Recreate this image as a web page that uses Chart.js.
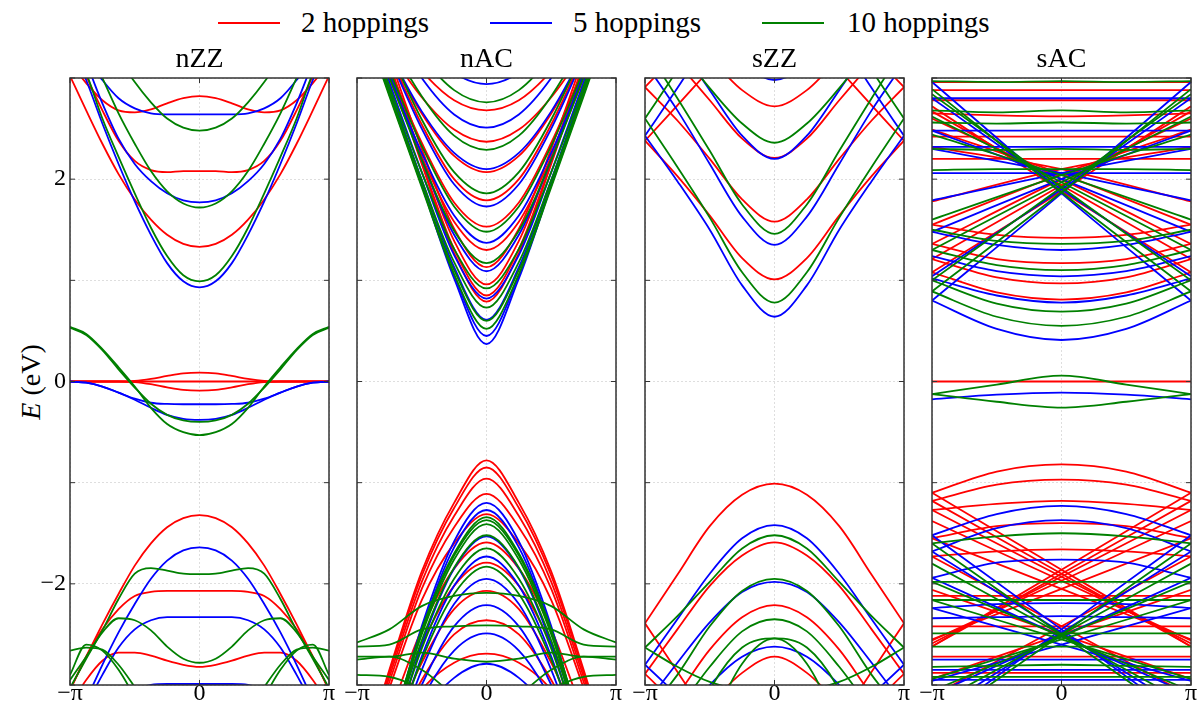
<!DOCTYPE html>
<html>
<head>
<meta charset="utf-8">
<script src="https://cdn.jsdelivr.net/npm/chart.js@4.4.1/dist/chart.umd.min.js"></script>
<style>
  html, body { margin: 0; padding: 0; background: #fff; }
  body { width: 1202px; height: 704px; position: relative; overflow: hidden;
         font-family: "Liberation Serif", "Times New Roman", serif; color: #000; }
  canvas { position: absolute; top: 58px; }
  .txt { position: absolute; font-size: 28px; line-height: 28px; white-space: nowrap; }
  .leg { font-size: 29px; top: 8px; }
  .title { transform: translateX(-50%); top: 44px; }
  .swatch { position: absolute; height: 2px; top: 22px; width: 62px; }
</style>
</head>
<body>
<div class="swatch" style="left:218px;background:#ff0000"></div>
<div class="txt leg" style="left:301px">2 hoppings</div>
<div class="swatch" style="left:490px;background:#0000ff"></div>
<div class="txt leg" style="left:573px">5 hoppings</div>
<div class="swatch" style="left:762px;background:#008000"></div>
<div class="txt leg" style="left:847px">10 hoppings</div>

<div class="txt" style="left:31px;top:382px;transform:translate(-50%,-50%) rotate(-90deg)"><i>E</i> (eV)</div>

<canvas id="c0" width="339" height="646" style="left:30px"></canvas>
<canvas id="c1" width="339" height="646" style="left:317px"></canvas>
<canvas id="c2" width="339" height="646" style="left:605px"></canvas>
<canvas id="c3" width="339" height="646" style="left:892px"></canvas>

<script>
// k in units of pi. The bands are symmetric, E(-k) = E(k), so only k >= 0 is stored.
const kHalfZZ = [0, 0.125, 0.25, 0.375, 0.5, 0.625, 0.75, 0.875, 1];
const kHalf = [0, 0.25, 0.5, 0.75, 1];
const kHalfAC = [0, 0.5, 1];
const kFull = [-1, -0.75, -0.5, -0.25, 0, 0.25, 0.5, 0.75, 1];

const kTicks = [-1, 0, 1];
const kTickLabels = ['\u2212\u03c0', '0', '\u03c0'];
const eTicks = [-3, -2, -1, 0, 1, 2, 3];
const eTickLabels = { '-2': '\u22122', '0': '0', '2': '2' };

const titles = ['nZZ', 'nAC', 'sZZ', 'sAC'];

// ---- nZZ (E in eV at kHalfZZ)
const nzzRed = [
  [2.82, 2.80, 2.75, 2.69, 2.66, 2.68, 2.78, 2.95, 3.15],
  [2.08, 2.08, 2.07, 2.09, 2.18, 2.38, 2.68, 3.02, 3.35],
  [1.33, 1.36, 1.45, 1.60, 1.80, 2.05, 2.35, 2.68, 3.02],
  [0.087, 0.08, 0.055, 0.025, 0.005, 0, 0, 0, 0],
  [0, 0, 0, 0, 0, 0, 0, 0, 0],
  [-0.09, -0.083, -0.058, -0.027, -0.006, 0, 0, 0, 0],
  [-1.32, -1.35, -1.44, -1.60, -1.82, -2.10, -2.40, -2.72, -3.05],
  [-2.07, -2.07, -2.07, -2.08, -2.12, -2.25, -2.45, -2.72, -3.05],
  [-2.82, -2.80, -2.76, -2.71, -2.68, -2.68, -2.76, -2.95, -3.20]
];
const nzzBlue = [
  [2.64, 2.64, 2.64, 2.65, 2.70, 2.80, 2.98, 3.20, 3.40],
  [1.77, 1.79, 1.86, 1.98, 2.15, 2.40, 2.75, 3.15, 3.50],
  [0.93, 0.99, 1.17, 1.45, 1.78, 2.15, 2.55, 2.98, 3.35],
  [-0.225, -0.225, -0.222, -0.21, -0.17, -0.11, -0.05, -0.012, 0],
  [-0.38, -0.37, -0.33, -0.26, -0.18, -0.11, -0.05, -0.012, 0],
  [-1.64, -1.67, -1.77, -1.95, -2.20, -2.48, -2.80, -3.15, -3.50],
  [-2.33, -2.33, -2.33, -2.36, -2.45, -2.63, -2.90, -3.20, -3.50],
  [-2.99, -2.99, -2.99, -3.00, -3.05, -3.20, -3.40, -3.60, -3.80]
];
const nzzGreen = [
  [2.48, 2.51, 2.60, 2.76, 2.96, 3.20, 3.50, 3.80, 4.00],
  [1.72, 1.76, 1.88, 2.08, 2.35, 2.65, 3.00, 3.35, 3.70],
  [0.99, 1.05, 1.24, 1.52, 1.86, 2.22, 2.60, 3.05, 3.40],
  [-0.40, -0.385, -0.33, -0.22, -0.06, 0.12, 0.31, 0.46, 0.53],
  [-0.53, -0.50, -0.42, -0.26, -0.05, 0.14, 0.32, 0.47, 0.54],
  [-1.905, -1.90, -1.87, -1.845, -1.90, -2.15, -2.46, -2.74, -3.03],
  [-2.78, -2.74, -2.62, -2.46, -2.36, -2.34, -2.48, -2.72, -2.95],
  [-3.80, -3.65, -3.45, -3.25, -3.02, -2.80, -2.65, -2.63, -2.66],
  [-4.20, -3.95, -3.70, -3.42, -3.12, -2.85, -2.66, -2.60, -2.90]
];

// ---- nAC (E in eV at kHalf)
const nacRed = [
  [2.68, 2.78, 3.07, 3.50, 4.02], [2.37, 2.49, 2.81, 3.27, 3.82],
  [2.07, 2.23, 2.65, 3.23, 3.89], [1.79, 2.00, 2.54, 3.24, 4.02],
  [1.53, 1.77, 2.36, 3.10, 3.90], [1.30, 1.58, 2.22, 3.00, 3.84],
  [1.13, 1.51, 2.30, 3.21, 4.16], [0.96, 1.39, 2.22, 3.15, 4.11],
  [0.85, 1.31, 2.17, 3.12, 4.09], [0.79, 1.27, 2.15, 3.10, 4.08],
  [-0.78, -1.20, -1.88, -2.85, -3.90], [-0.85, -1.25, -1.92, -2.88, -3.90],
  [-0.96, -1.33, -1.98, -2.92, -3.90], [-1.11, -1.44, -2.05, -2.97, -3.90],
  [-1.31, -1.60, -2.16, -3.03, -3.95], [-1.59, -1.85, -2.45, -3.30, -4.20],
  [-1.79, -2.02, -2.60, -3.40, -4.20], [-2.07, -2.25, -2.78, -3.50, -4.20],
  [-2.36, -2.50, -2.95, -3.60, -4.30], [-2.69, -2.78, -3.05, -3.60, -4.20]
];
const nacBlue = [
  [2.94, 3.05, 3.35, 3.79, 4.35], [2.51, 2.64, 3.00, 3.53, 4.15],
  [2.10, 2.26, 2.67, 3.25, 3.91], [1.73, 1.95, 2.50, 3.21, 3.99],
  [1.37, 1.64, 2.26, 3.03, 3.85], [1.09, 1.45, 2.19, 3.05, 3.95],
  [0.82, 1.25, 2.07, 2.96, 3.89], [0.61, 1.13, 1.99, 2.91, 3.85],
  [0.45, 1.05, 1.95, 2.88, 3.83], [0.37, 1.02, 1.94, 2.87, 3.82],
  [-1.20, -1.58, -2.42, -3.55, -4.60], [-1.27, -1.64, -2.46, -3.58, -4.60],
  [-1.53, -1.85, -2.60, -3.65, -4.60], [-1.73, -2.02, -2.72, -3.70, -4.60],
  [-1.95, -2.20, -2.85, -3.75, -4.60], [-2.21, -2.42, -3.00, -3.80, -4.60],
  [-2.49, -2.66, -3.15, -3.90, -4.60], [-2.79, -2.93, -3.30, -4.00, -4.60]
];
const nacGreen = [
  [2.76, 2.88, 3.22, 3.72, 4.29], [2.29, 2.43, 2.82, 3.37, 4.03],
  [1.86, 2.07, 2.59, 3.28, 4.07], [1.48, 1.73, 2.33, 3.08, 3.88],
  [1.17, 1.49, 2.19, 3.01, 3.88], [0.92, 1.31, 2.07, 2.92, 3.81],
  [0.73, 1.18, 1.99, 2.87, 3.77], [0.60, 1.10, 1.94, 2.84, 3.75],
  [0.52, 1.06, 1.92, 2.82, 3.74],
  [-1.34, -1.70, -2.45, -3.50, -4.50], [-1.37, -1.72, -2.47, -3.50, -4.50],
  [-1.41, -1.76, -2.50, -3.52, -4.50], [-1.52, -1.84, -2.56, -3.55, -4.50],
  [-1.65, -1.95, -2.64, -3.60, -4.50], [-1.83, -2.10, -2.75, -3.65, -4.50],
  [-2.09, -2.12, -2.22, -2.45, -2.58], [-2.41, -2.42, -2.45, -2.60, -2.62],
  [-2.77, -2.74, -2.68, -2.72, -2.72], [-3.30, -3.10, -2.85, -2.72, -2.75],
  [-3.50, -3.30, -3.05, -2.92, -2.90]
];

// ---- sZZ (E in eV at kHalf)
const szzRed = [
  [2.72, 2.88, 3.20, 3.50, 3.80], [2.21, 2.40, 2.78, 3.15, 3.50],
  [1.58, 1.80, 2.20, 2.58, 2.91], [1.01, 1.22, 1.64, 2.03, 2.38],
  [3.70, 3.40, 3.08, 2.73, 2.38], [4.20, 3.90, 3.55, 3.24, 2.91],
  [-1.01, -1.12, -1.43, -1.91, -2.39], [-1.59, -1.72, -2.02, -2.45, -2.89],
  [-2.21, -2.33, -2.65, -3.10, -3.50], [-2.72, -2.88, -3.20, -3.60, -4.00],
  [-4.20, -3.80, -3.35, -2.87, -2.39], [-4.20, -3.90, -3.50, -3.20, -2.89]
];
const szzBlue = [
  [2.98, 3.15, 3.50, 3.90, 4.30], [2.20, 2.43, 2.88, 3.35, 3.80],
  [1.35, 1.63, 2.15, 2.68, 3.15], [0.64, 0.95, 1.50, 1.98, 2.43],
  [4.30, 3.90, 3.40, 2.90, 2.43],
  [-1.42, -1.55, -1.90, -2.35, -2.80], [-1.98, -2.08, -2.38, -2.78, -3.20],
  [-2.62, -2.72, -3.00, -3.40, -3.80], [-4.00, -3.70, -3.40, -3.10, -2.80]
];
const szzGreen = [
  [2.36, 2.55, 2.90, 3.30, 3.70], [1.46, 1.75, 2.28, 2.80, 3.30],
  [0.78, 1.08, 1.62, 2.12, 2.60], [4.50, 4.10, 3.60, 3.08, 2.60],
  [-1.52, -1.65, -1.98, -2.32, -2.63], [-1.95, -2.07, -2.42, -2.90, -3.30],
  [-2.35, -2.47, -2.82, -3.25, -3.65], [-3.08, -3.05, -2.97, -2.82, -2.63]
];
// two offset green bands near the bottom, read over the whole k range (kFull)
const szzGreenFull = [
  [-4.90, -3.81, -3.05, -2.63, -2.54, -2.79, -3.43, -4.29, -5.40],
  [-5.40, -4.29, -3.43, -2.79, -2.54, -2.63, -3.05, -3.81, -4.90]
];

// ---- sAC (E in eV at kHalfAC)
const sacRed = [
  [2.96, 2.96, 2.96], [2.88, 2.88, 2.88], [2.78, 2.78, 2.78], [2.62, 2.63, 2.65],
  [2.42, 2.42, 2.42], [2.20, 2.20, 2.20], [1.42, 1.45, 1.55], [1.17, 1.21, 1.36],
  [0.97, 1.03, 1.21], [0.81, 0.88, 1.08],
  [0, 0, 0],
  [-0.82, -0.89, -1.10], [-0.97, -1.02, -1.18], [-1.18, -1.21, -1.27],
  [-1.40, -1.43, -1.55], [-1.66, -1.68, -1.73], [-2.12, -2.12, -2.12],
  [-2.42, -2.42, -2.42], [-2.72, -2.72, -2.72], [-2.88, -2.88, -2.88]
];
const sacBlue = [
  [2.80, 2.80, 2.80], [2.48, 2.48, 2.48], [2.32, 2.32, 2.32], [2.06, 2.06, 2.06],
  [1.30, 1.35, 1.48], [1.04, 1.09, 1.24], [0.78, 0.85, 1.02], [0.41, 0.52, 0.80],
  [-0.11, -0.13, -0.176],
  [-1.23, -1.31, -1.52], [-1.37, -1.45, -1.68], [-1.76, -1.79, -1.94],
  [-2.19, -2.20, -2.24], [-2.32, -2.33, -2.34], [-2.75, -2.75, -2.75],
  [-2.85, -2.85, -2.85], [-2.95, -2.95, -2.95]
];
const sacGreen = [
  [2.97, 2.96, 2.97], [2.68, 2.66, 2.68], [2.56, 2.55, 2.56], [2.30, 2.29, 2.30],
  [2.10, 2.10, 2.09], [1.36, 1.39, 1.50], [1.10, 1.15, 1.30], [0.69, 0.77, 1.00],
  [0.55, 0.64, 0.89],
  [0.058, -0.03, -0.124], [-0.258, -0.20, -0.124],
  [-1.50, -1.53, -1.60], [-1.98, -1.98, -1.98], [-2.16, -2.16, -2.16],
  [-2.49, -2.49, -2.49], [-2.62, -2.62, -2.62], [-2.80, -2.81, -2.82],
  [-2.92, -2.92, -2.92]
];
// sAC bands that cross straight through k = 0: E at k = -pi, 0, pi (each drawn with its mirror image)
const sacRedCross = [
  [1.08, 1.88, 2.72], [1.21, 1.94, 2.67], [1.36, 2.00, 2.60], [1.55, 2.05, 2.49],
  [1.78, 2.10, 2.32],
  [-1.10, -1.86, -2.62], [-1.18, -1.90, -2.62], [-1.27, -1.93, -2.59],
  [-1.38, -1.97, -2.56], [-1.55, -2.05, -2.55], [-1.73, -2.42, -3.11],
  [-2.06, -2.50, -2.94]
];
const sacBlueCross = [
  [0.80, 1.86, 2.96], [1.04, 1.90, 2.80], [1.48, 2.00, 2.48], [1.79, 2.06, 2.30],
  [-1.52, -2.45, -3.38], [-1.68, -2.48, -3.28], [-1.94, -2.52, -3.10],
  [-2.24, -2.60, -2.96]
];
const sacGreenCross = [
  [0.89, 1.87, 2.89], [1.00, 1.92, 2.84], [1.30, 1.97, 2.62], [1.60, 2.04, 2.44],
  [-1.60, -2.50, -3.40], [-1.80, -2.50, -3.20], [-1.98, -2.52, -3.06],
  [-2.16, -2.55, -2.94]
];

const RED = '#ff0000', BLUE = '#0000ff', GREEN = '#008000';
const ORDER = { [RED]: 2, [BLUE]: 1, [GREEN]: 0 };

function sym(kh, vals) {
  const pts = [];
  for (let i = kh.length - 1; i > 0; i--) pts.push({ x: -kh[i], y: vals[i] });
  for (let i = 0; i < kh.length; i++) pts.push({ x: kh[i], y: vals[i] });
  return pts;
}
function bands(kh, rows, color) {
  return rows.map(v => ({ color, pts: sym(kh, v) }));
}
function crossing(rows, color) {
  const out = [];
  rows.forEach(v => {
    out.push({ color, pts: [{ x: -1, y: v[0] }, { x: 0, y: v[1] }, { x: 1, y: v[2] }] });
    out.push({ color, pts: [{ x: -1, y: v[2] }, { x: 0, y: v[1] }, { x: 1, y: v[0] }] });
  });
  return out;
}
function full(kf, rows, color) {
  return rows.map(v => ({ color, pts: kf.map((x, i) => ({ x, y: v[i] })) }));
}

const panelBands = [
  [...bands(kHalfZZ, nzzRed, RED), ...bands(kHalfZZ, nzzBlue, BLUE), ...bands(kHalfZZ, nzzGreen, GREEN)],
  [...bands(kHalf, nacRed, RED), ...bands(kHalf, nacBlue, BLUE), ...bands(kHalf, nacGreen, GREEN)],
  [...bands(kHalf, szzRed, RED), ...bands(kHalf, szzBlue, BLUE), ...bands(kHalf, szzGreen, GREEN),
   ...full(kFull, szzGreenFull, GREEN)],
  [...bands(kHalfAC, sacRed, RED), ...crossing(sacRedCross, RED),
   ...bands(kHalfAC, sacBlue, BLUE), ...crossing(sacBlueCross, BLUE),
   ...bands(kHalfAC, sacGreen, GREEN), ...crossing(sacGreenCross, GREEN)]
];

const GRID = 'rgba(0,0,0,0.13)';
const tickFont = { family: '"Liberation Serif", "Times New Roman", serif', size: 24, lineHeight: 1 };

const framePlugin = {
  id: 'frame',
  afterDatasetsDraw(chart) {
    const { ctx, chartArea: a, scales } = chart;
    ctx.save();
    ctx.strokeStyle = '#333';
    ctx.lineWidth = 1;
    ctx.beginPath();
    kTicks.forEach(v => {
      const x = scales.x.getPixelForValue(v);
      ctx.moveTo(x, a.bottom); ctx.lineTo(x, a.bottom - 5);
      ctx.moveTo(x, a.top); ctx.lineTo(x, a.top + 5);
    });
    eTicks.forEach(v => {
      const y = scales.y.getPixelForValue(v);
      ctx.moveTo(a.left, y); ctx.lineTo(a.left + 5, y);
      ctx.moveTo(a.right, y); ctx.lineTo(a.right - 5, y);
    });
    ctx.stroke();
    ctx.lineWidth = 1.5;
    ctx.strokeRect(a.left, a.top, a.width, a.height);
    ctx.restore();
  }
};

panelBands.forEach((list, p) => {
  const datasets = list.map(b => ({
    data: b.pts,
    borderColor: b.color,
    borderWidth: 1.8,
    pointRadius: 0,
    fill: false,
    cubicInterpolationMode: 'monotone',
    clip: 0,
    order: ORDER[b.color]
  }));

  new Chart(document.getElementById('c' + p), {
    type: 'line',
    data: { datasets },
    options: {
      responsive: false,
      animation: false,
      devicePixelRatio: 1,
      events: [],
      layout: { padding: { left: 0, right: 40, top: 20, bottom: 0 } },
      plugins: { legend: { display: false }, tooltip: { enabled: false } },
      scales: {
        x: {
          type: 'linear', min: -1, max: 1,
          afterBuildTicks: s => { s.ticks = kTicks.map(v => ({ value: v })); },
          afterFit: s => { s.height = 19; },
          ticks: {
            autoSkip: false, maxRotation: 0, padding: -3, color: '#000', font: tickFont,
            callback: v => kTickLabels[kTicks.indexOf(v)]
          },
          grid: { color: GRID, drawTicks: false },
          border: { display: false, dash: [2, 2] }
        },
        y: {
          type: 'linear', min: -3, max: 3,
          afterBuildTicks: s => { s.ticks = eTicks.map(v => ({ value: v })); },
          afterFit: s => { s.width = 40; },
          ticks: {
            padding: 4, color: '#000', font: tickFont,
            callback: v => (p === 0 && eTickLabels[v] !== undefined) ? eTickLabels[v] : ''
          },
          grid: { color: GRID, drawTicks: false },
          border: { display: false, dash: [2, 2] }
        }
      }
    },
    plugins: [framePlugin]
  });
});

titles.forEach((t, p) => {
  const d = document.createElement('div');
  d.className = 'txt title';
  d.style.left = [199.5, 486.5, 774.5, 1061.5][p] + 'px';
  d.textContent = t;
  document.body.appendChild(d);
});
</script>
</body>
</html>
